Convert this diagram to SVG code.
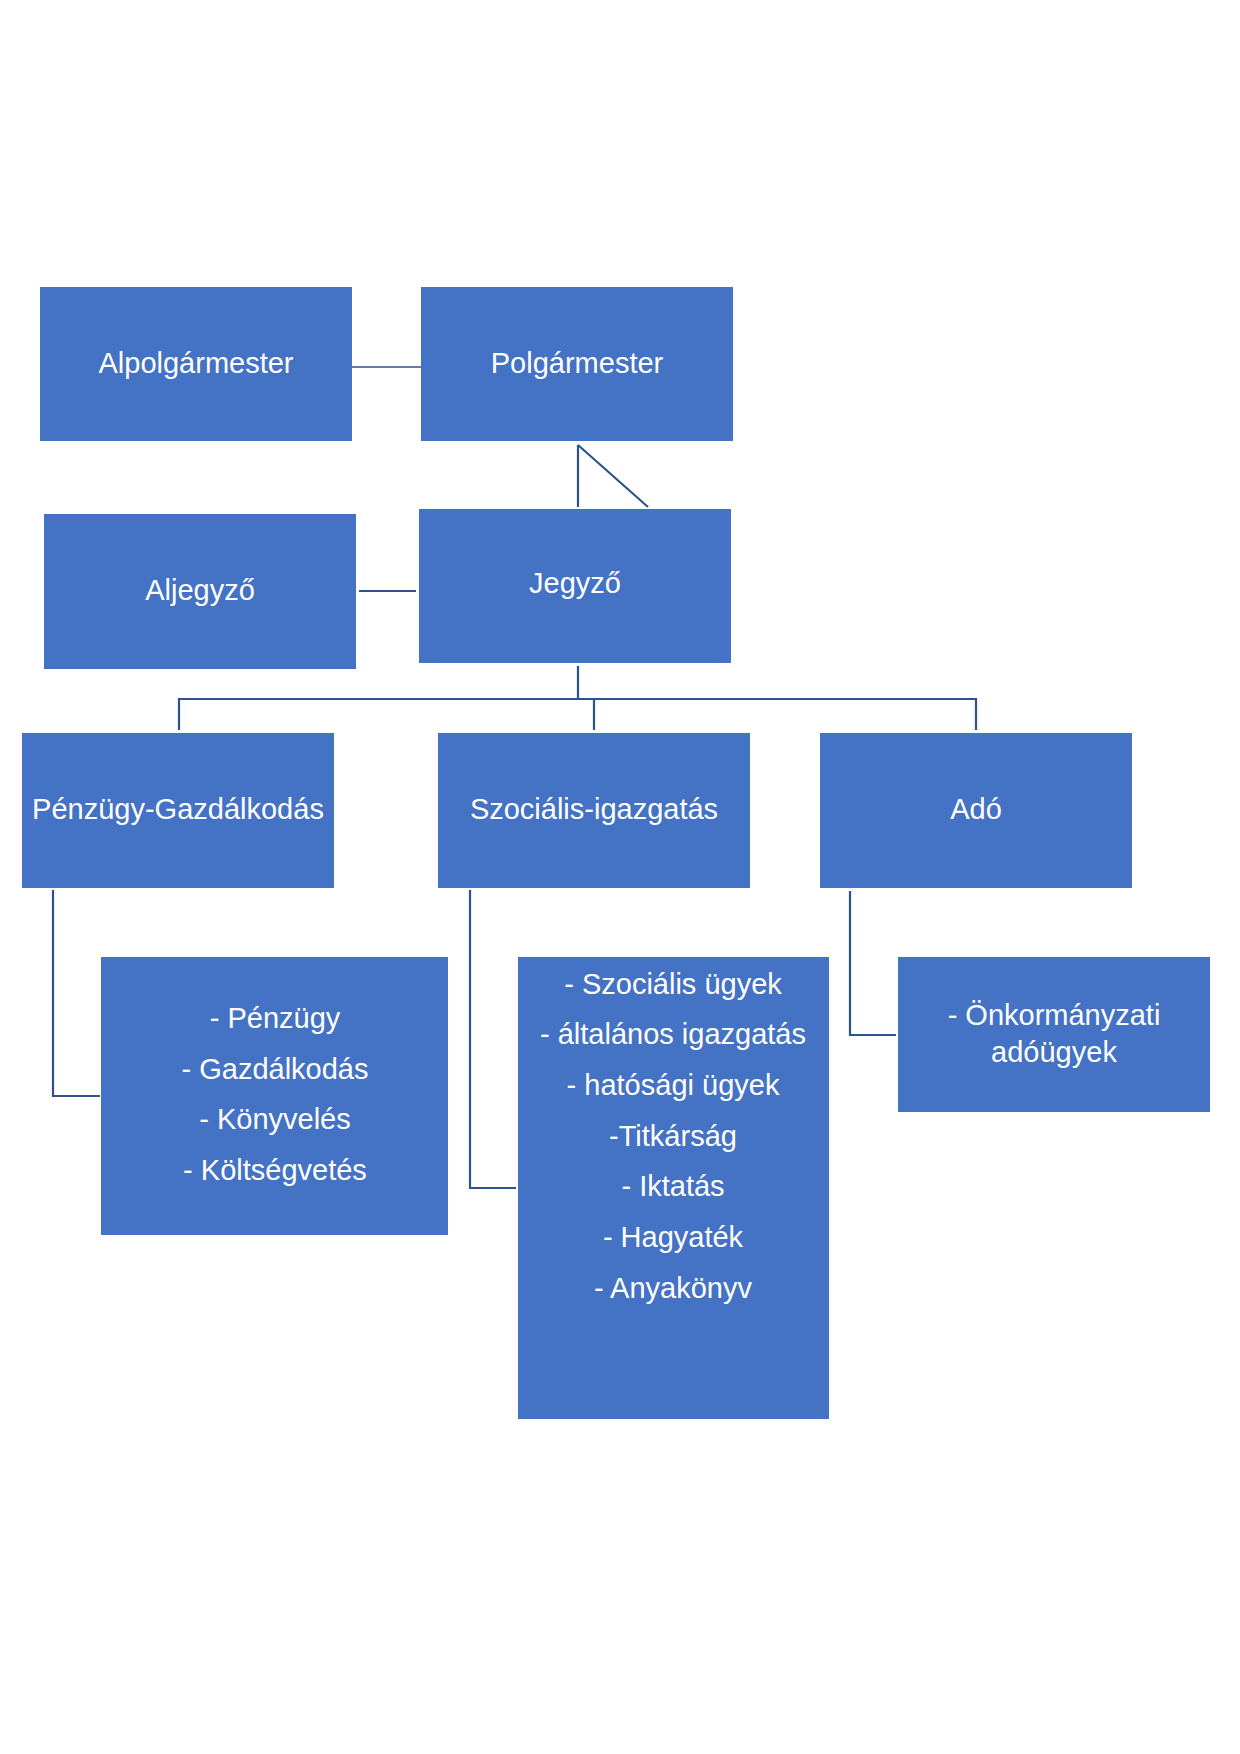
<svg xmlns="http://www.w3.org/2000/svg" width="1240" height="1754" viewBox="0 0 1240 1754">
<style>
.box{fill:#4472C4;}
.t{font-family:"Liberation Sans",Arial,sans-serif;font-size:29px;fill:#ffffff;text-anchor:middle;}
.c{fill:none;stroke:#2F528F;stroke-width:2.2;}
</style>
<rect width="1240" height="1754" fill="#ffffff"/>
<g id="connectors">
<line class="c" x1="352" y1="367" x2="421" y2="367" style="stroke-width:1.4"/>
<line class="c" x1="359" y1="591" x2="416" y2="591"/>
<line class="c" x1="578" y1="445" x2="578" y2="507"/>
<line class="c" x1="578" y1="445" x2="648" y2="507"/>
<path class="c" d="M578,666 V699 M179,730 V699 H976 V730 M594,699 V730"/>
<path class="c" d="M53,890 V1096 H100"/>
<path class="c" d="M470,890 V1188 H516"/>
<path class="c" d="M850,891 V1035 H896"/>
</g>
<g id="alpolgarmester"><rect class="box" x="40" y="287" width="312" height="154"/><text class="t" x="196" y="373">Alpolgármester</text></g>
<g id="polgarmester"><rect class="box" x="421" y="287" width="312" height="154"/><text class="t" x="577" y="373">Polgármester</text></g>
<g id="aljegyzo"><rect class="box" x="44" y="514" width="312" height="155"/><text class="t" x="200" y="600">Aljegyző</text></g>
<g id="jegyzo"><rect class="box" x="419" y="509" width="312" height="154"/><text class="t" x="575" y="593">Jegyző</text></g>
<g id="penzugy"><rect class="box" x="22" y="733" width="312" height="155"/><text class="t" x="178" y="819">Pénzügy-Gazdálkodás</text></g>
<g id="szocialis"><rect class="box" x="438" y="733" width="312" height="155"/><text class="t" x="594" y="819">Szociális-igazgatás</text></g>
<g id="ado"><rect class="box" x="820" y="733" width="312" height="155"/><text class="t" x="976" y="819">Adó</text></g>
<g id="penzugy-list"><rect class="box" x="101" y="957" width="347" height="278"/>
<text class="t" x="275" y="1028">- Pénzügy</text>
<text class="t" x="275" y="1079">- Gazdálkodás</text>
<text class="t" x="275" y="1129">- Könyvelés</text>
<text class="t" x="275" y="1180">- Költségvetés</text>
</g>
<g id="szocialis-list"><rect class="box" x="518" y="957" width="311" height="462"/>
<text class="t" x="673" y="994">- Szociális ügyek</text>
<text class="t" x="673" y="1044">- általános igazgatás</text>
<text class="t" x="673" y="1095">- hatósági ügyek</text>
<text class="t" x="673" y="1146">-Titkárság</text>
<text class="t" x="673" y="1196">- Iktatás</text>
<text class="t" x="673" y="1247">- Hagyaték</text>
<text class="t" x="673" y="1298">- Anyakönyv</text>
</g>
<g id="ado-list"><rect class="box" x="898" y="957" width="312" height="155"/>
<text class="t" x="1054" y="1025">- Önkormányzati</text>
<text class="t" x="1054" y="1062">adóügyek</text>
</g>
</svg>
